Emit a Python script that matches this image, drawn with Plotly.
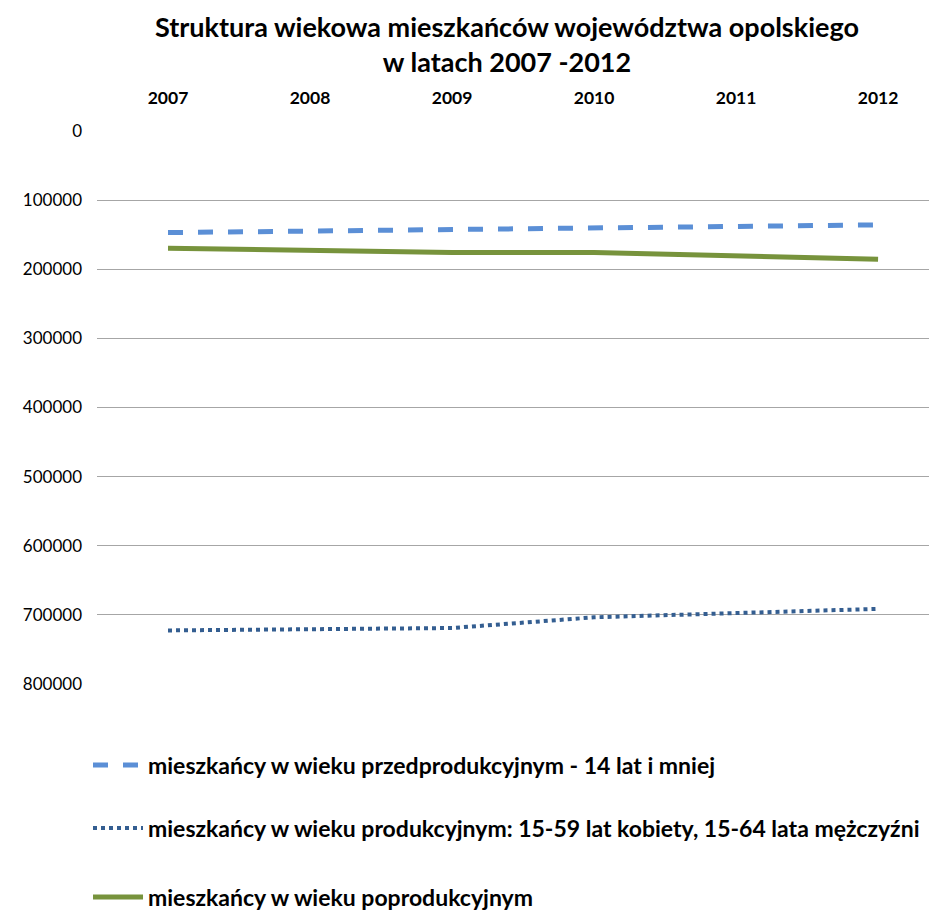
import plotly.graph_objects as go

years = ["2007", "2008", "2009", "2010", "2011", "2012"]
pre = [147000, 144800, 142300, 140300, 138000, 135800]
prod = [722500, 720500, 719000, 703500, 698000, 691300]
post = [169700, 172600, 175600, 175800, 181000, 185500]

names = [
    "mieszkańcy w wieku przedprodukcyjnym - 14 lat i mniej",
    "mieszkańcy w wieku produkcyjnym: 15-59 lat kobiety, 15-64 lata mężczyźni",
    "mieszkańcy w wieku poprodukcyjnym",
]

font = "Lato"
fig = go.Figure()
fig.add_trace(go.Scatter(x=years, y=pre, mode="lines", name=names[0],
                         line=dict(color="#5B8FD6", width=5, dash="dash"), legend="legend"))
fig.add_trace(go.Scatter(x=years, y=prod, mode="lines", name=names[1],
                         line=dict(color="#345E91", width=4, dash="dot"), legend="legend2"))
fig.add_trace(go.Scatter(x=years, y=post, mode="lines", name=names[2],
                         line=dict(color="#77933C", width=5), legend="legend3"))

W, Hfig = 929, 902
plot_top, plot_bot = 123, 676
H = plot_bot - plot_top
def py(pix):
    return (plot_bot - pix) / H

leg = dict(x=-0.0107, xanchor="left", yanchor="middle",
           font=dict(family=font, size=23, color="#000000", weight="bold"), itemwidth=50,
           bgcolor="rgba(0,0,0,0)", borderwidth=0)
fig.update_layout(
    width=W, height=Hfig,
    showlegend=True,
    margin=dict(l=89, r=0, t=plot_top, b=Hfig - plot_bot, autoexpand=False),
    paper_bgcolor="white", plot_bgcolor="white",
    title=dict(text="<b>Struktura wiekowa mieszkańców województwa opolskiego<br>w latach 2007 -2012</b>",
               x=499 / W, xanchor="center", y=1 - 29 / Hfig, yanchor="top",
               font=dict(family=font, size=27, color="#000000")),
    legend=dict(leg, y=py(757)),
    legend2=dict(leg, y=py(820)),
    legend3=dict(leg, y=py(889)),
    xaxis=dict(side="top", type="category", range=[-0.5, 5.415], showgrid=False,
               showline=False, ticks="", ticklabelstandoff=23, tickangle=0,
               tickfont=dict(family=font, size=17.5, color="#000000", weight="bold")),
    yaxis=dict(range=[800000, 0], dtick=100000, tickformat="d", showgrid=True,
               gridcolor="#A6A6A6", gridwidth=1, zeroline=False, showline=False,
               ticks="", ticklabelstandoff=14,
               tickfont=dict(family=font, size=17, color="#000000")),
)
fig.write_html("out.html")
